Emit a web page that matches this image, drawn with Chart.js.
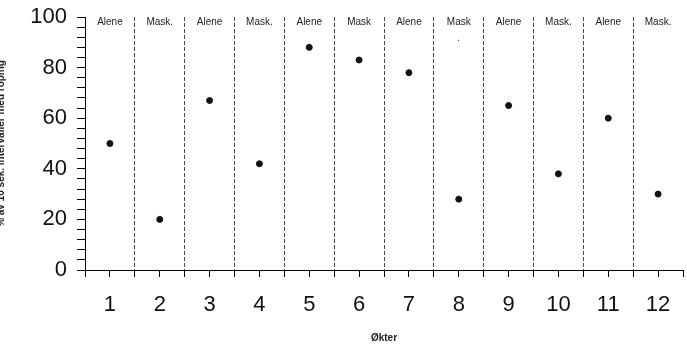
<!DOCTYPE html>
<html>
<head>
<meta charset="utf-8">
<script src="https://cdn.jsdelivr.net/npm/chart.js@4.4.0/dist/chart.umd.min.js"></script>
<style>
  html, body { margin: 0; padding: 0; background: #fff; }
  #wrap { position: relative; width: 687px; height: 348px; overflow: hidden; }
  #inner { position: absolute; left: -7px; top: 0; width: 694px; height: 348px; }
</style>
</head>
<body>
<div id="wrap"><div id="inner"><canvas id="chart"></canvas></div></div>
<script>
// Økter 1..12, annenhver alene / med maske
const okter = [1, 2, 3, 4, 5, 6, 7, 8, 9, 10, 11, 12];
const andelRoping = [50, 20, 67, 42, 88, 83, 78, 28, 65, 38, 60, 30];
const fase = ['Alene', 'Mask.', 'Alene', 'Mask.', 'Alene', 'Mask', 'Alene', ['Mask', '.'], 'Alene', 'Mask.', 'Alene', 'Mask.'];

const font = 'Arial, "Liberation Sans", sans-serif';

// skriver fasenavn øverst i hver kolonne
const faseTekst = {
  id: 'faseTekst',
  afterDatasetsDraw(chart) {
    const ctx = chart.ctx;
    const x = chart.scales.x;
    const top = chart.chartArea.top;
    ctx.save();
    ctx.font = '10px ' + font;
    ctx.fillStyle = '#222';
    ctx.textAlign = 'center';
    ctx.textBaseline = 'middle';
    fase.forEach((t, i) => {
      const px = x.getPixelForValue(okter[i]);
      const linjer = Array.isArray(t) ? t : [t];
      linjer.forEach((l, j) => ctx.fillText(l, px, top + 5 + j * 16));
    });
    ctx.restore();
  }
};

new Chart(document.getElementById('chart'), {
  type: 'scatter',
  data: {
    datasets: [{
      data: okter.map((o, i) => ({ x: o, y: andelRoping[i] })),
      backgroundColor: '#111',
      borderColor: '#111',
      pointRadius: 3,
      pointHoverRadius: 3
    }]
  },
  options: {
    responsive: true,
    maintainAspectRatio: false,
    devicePixelRatio: 1,
    animation: false,
    layout: { padding: { top: 17, right: 2, left: 0, bottom: 0 } },
    plugins: { legend: { display: false }, tooltip: { enabled: false } },
    scales: {
      x: {
        type: 'linear',
        min: 0.5,
        max: 12.5,
        afterFit: s => { s.height = 78; s.paddingLeft = 0; s.paddingRight = 0; },
        afterBuildTicks: s => {
          const t = [];
          for (let v = 0.5; v <= 12.5; v += 0.5) t.push({ value: v });
          s.ticks = t;
        },
        border: { display: true, color: '#000', width: 1, dash: [4, 2] },
        grid: {
          drawOnChartArea: true,
          color: c => {
            const v = c.tick && c.tick.value;
            return (v !== undefined && !Number.isInteger(v) && v > 1 && v < 12) ? '#444' : 'rgba(0,0,0,0)';
          },
          lineWidth: 1,
          tickBorderDash: [],
          tickColor: '#000',
          tickLength: 7
        },
        ticks: {
          autoSkip: false,
          maxRotation: 0,
          padding: 15,
          color: '#111',
          font: { family: font, size: 22 },
          callback: v => Number.isInteger(v) ? String(v) : ''
        },
        title: {
          display: true,
          text: 'Økter',
          color: '#222',
          font: { family: font, size: 10, weight: 'bold' },
          padding: { top: 0, bottom: 4 }
        }
      },
      y: {
        min: 0,
        max: 100,
        afterFit: s => { s.width = 92; s.paddingTop = 0; s.paddingBottom = 0; },
        afterBuildTicks: s => {
          const t = [];
          for (let v = 0; v <= 100; v += 4) t.push({ value: v });
          s.ticks = t;
        },
        border: { display: true, color: '#000', width: 1 },
        grid: {
          drawOnChartArea: false,
          tickColor: '#000',
          tickLength: 8
        },
        ticks: {
          autoSkip: false,
          padding: 10,
          color: '#111',
          font: { family: font, size: 22 },
          callback: v => v % 20 === 0 ? String(v) : ''
        },
        title: {
          display: true,
          text: '% av 10 sek. intervaller med roping',
          color: '#222',
          font: { family: font, size: 10, weight: 'bold' },
          padding: { top: 2, bottom: 0 }
        }
      }
    }
  },
  plugins: [faseTekst]
});
</script>
</body>
</html>
